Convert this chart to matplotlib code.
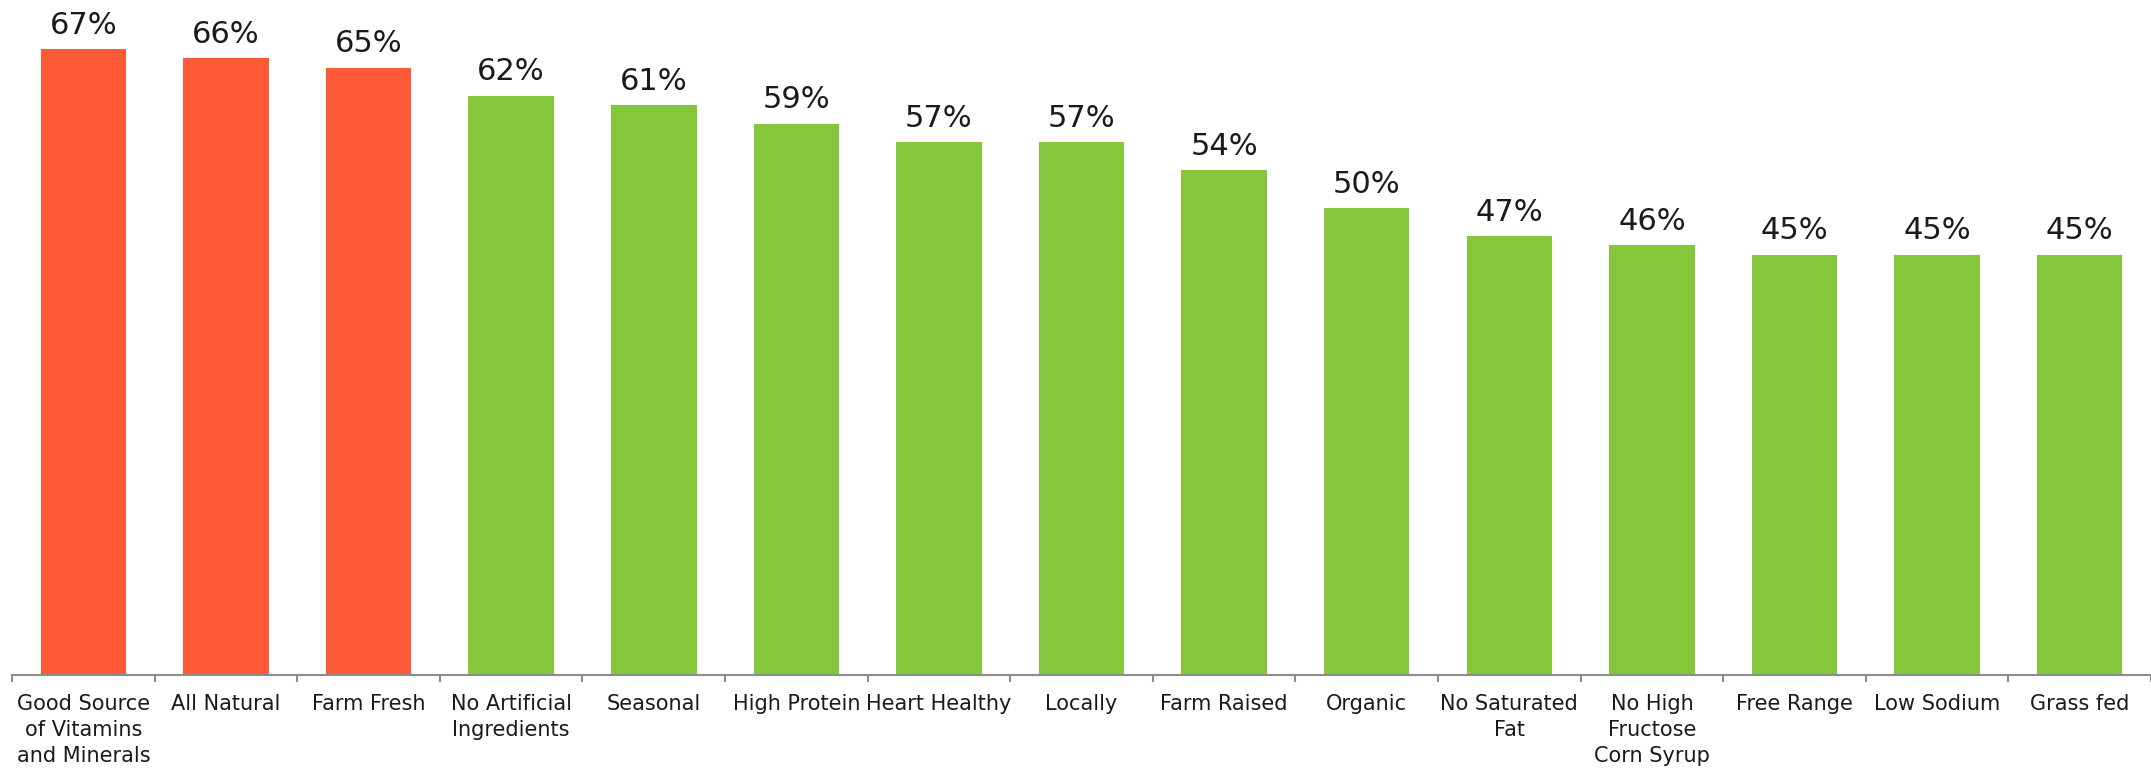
import numpy as np
import matplotlib
matplotlib.use("Agg")
import matplotlib.pyplot as plt
from matplotlib.ticker import FixedLocator

# claims and share of respondents (%)
categories = [
    "Good Source\nof Vitamins\nand Minerals", "All Natural", "Farm Fresh",
    "No Artificial\nIngredients", "Seasonal", "High Protein", "Heart Healthy",
    "Locally", "Farm Raised", "Organic", "No Saturated\nFat",
    "No High\nFructose\nCorn Syrup", "Free Range", "Low Sodium", "Grass fed",
]
values = [67, 66, 65, 62, 61, 59, 57, 57, 54, 50, 47, 46, 45, 45, 45]
n_highlight = 3

RED = "#FF5A38"
GREEN = "#85C73A"

plt.rcParams['font.family'] = ['DejaVu Sans']

fig = plt.figure(figsize=(21.51, 7.69), dpi=100)
ax = fig.add_axes([0.0056, 0.1222, 0.9944, 0.8505])

x = np.arange(len(values))
colors = [RED if i < n_highlight else GREEN for i in range(len(values))]
bars = ax.bar(x, values, width=0.6, color=colors)

for b, v in zip(bars, values):
    ax.text(b.get_x() + b.get_width() / 2, v + 1.0, f"{v}%",
            ha="center", va="bottom", fontsize=22, color="#1a1a1a")

ax.set_xlim(-0.5, len(values) - 0.5)
ax.set_ylim(0, 70)

# category labels centred, tick marks between categories
ax.set_xticks(x)
ax.set_xticklabels(categories, fontsize=15, color="#1a1a1a", linespacing=1.35)
ax.tick_params(axis="x", which="major", length=0, pad=14)
ax.xaxis.set_minor_locator(FixedLocator(np.arange(-0.5, len(values), 1.0)))
ax.tick_params(axis="x", which="minor", length=5, width=1.5, color="#8c8c8c")

ax.set_yticks([])
for side in ["left", "right", "top"]:
    ax.spines[side].set_visible(False)
ax.spines["bottom"].set_color("#8c8c8c")
ax.spines["bottom"].set_linewidth(1.5)

fig.savefig("out.png", dpi=100)
